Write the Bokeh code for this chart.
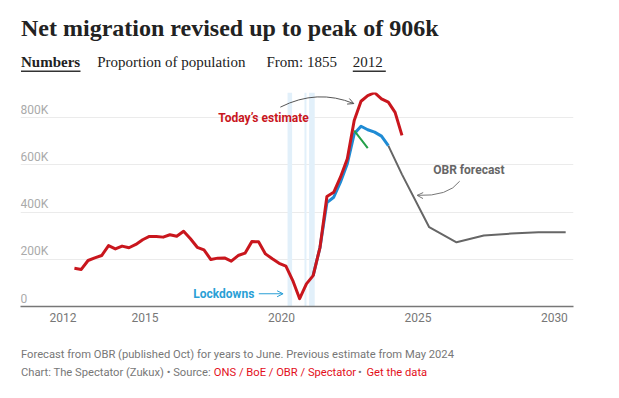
import pandas as pd
from bokeh.plotting import figure
from bokeh.layouts import column
from bokeh.models import Label, Arrow, OpenHead, FixedTicker, Range1d
from bokeh.core.properties import value
from bokeh.embed import file_html
from bokeh.resources import INLINE

# ---------------- data ----------------
# Today's estimate (thousands), quarterly from Jun 2012
red_start = "2012-06-01"
red_values = [162, 157, 195, 206, 216, 258, 244, 256, 249, 263, 283, 297, 297,
              294, 304, 298, 319, 287, 251, 240, 199, 205, 206, 192, 216, 226,
              275, 274, 223, 202, 183, 171, 110, 33, 96, 131, 251, 466, 484,
              548, 626, 788, 870, 894, 906, 880, 866, 823, 725]
# Previous estimate (May 2024), quarterly from Mar 2021
blue_start = "2021-03-01"
blue_values = [131, 251, 440, 463, 527, 605, 732, 764, 749, 739, 722, 682]
# Earlier estimate, quarterly from Sep 2022
green_start = "2022-09-01"
green_values = [745, 708, 671]
# OBR forecast (years to June)
gray_dates = ["2023-12-01", "2024-06-01", "2025-06-01", "2026-06-01",
              "2027-06-01", "2028-06-01", "2029-06-01", "2030-06-01"]
gray_values = [682, 560, 336, 272, 301, 309, 315, 315]
# Lockdowns
lock_starts = ["2020-03-23", "2020-11-05", "2021-01-06"]
lock_ends = ["2020-05-23", "2020-12-02", "2021-03-22"]

x_ticks = [2012, 2015, 2020, 2025, 2030]
y_ticks = [0, 200, 400, 600, 800]
y_tick_labels = ["0", "200K", "400K", "600K", "800K"]
grid_ticks = [200, 400, 600, 800]

X_START, X_END = 2010.44, 2030.70
Y_START, Y_END = 0, 907

W = 619
LEFT, RIGHT = 20, 46          # borders around the plotting frame


def frac_year(d):
    d = pd.Timestamp(d)
    days = 366 if d.is_leap_year else 365
    return d.year + (d.dayofyear - 1) / days


def quarterly(start, n):
    return [frac_year(d) for d in pd.date_range(start, periods=n, freq="3MS")]


red_x = quarterly(red_start, len(red_values))
blue_x = quarterly(blue_start, len(blue_values))
green_x = quarterly(green_start, len(green_values))
gray_x = [frac_year(d) for d in gray_dates]

RED = "#c9161d"
BLUE = "#1f8bd4"
GREEN = "#24a04a"
GRAY = "#666666"
LBLUE = "#2a9fd6"
INK = "#222222"


def blank(height, y_top, y_bottom):
    # frame spans x = LEFT .. W-RIGHT, so the x range is in page pixels
    f = figure(width=W, height=height, x_range=Range1d(LEFT, W - RIGHT),
               y_range=Range1d(y_bottom, y_top), output_backend="svg",
               toolbar_location=None, x_axis_location=None, y_axis_location=None,
               min_border_left=LEFT, min_border_right=RIGHT,
               min_border_top=0, min_border_bottom=0)
    f.outline_line_color = None
    f.xgrid.visible = False
    f.ygrid.visible = False
    return f


def txt(f, x, y, s, font, size, color, style="normal"):
    f.text(x=[x], y=[y], text=[s], text_font=value(font), text_font_size=size,
           text_color=color, text_font_style=style, text_baseline="alphabetic",
           text_align="left")


# ---------------- header ----------------
SERIF = "Liberation Serif"
head = blank(80, 0, 80)
txt(head, 20.5, 27.5, "Net migration revised up to peak of 906k", SERIF, "24px", INK, "bold")
txt(head, 20.5, 61.5, "Numbers", SERIF, "15px", INK, "bold")
txt(head, 96.7, 61.5, "Proportion of population", SERIF, "15px", INK)
txt(head, 266, 61.5, "From: 1855", SERIF, "15px", INK)
txt(head, 352.3, 61.5, "2012", SERIF, "15px", INK)
head.segment(x0=[20.5, 352.3], y0=[70.7, 70.7], x1=[80, 385.3], y1=[70.7, 70.7],
             line_color="#333333", line_width=1.5)

# ---------------- main chart ----------------
p = figure(width=W, height=255, x_range=Range1d(X_START, X_END),
           y_range=Range1d(Y_START, Y_END), output_backend="svg",
           toolbar_location=None, y_axis_location=None,
           min_border_left=LEFT, min_border_right=RIGHT, min_border_top=12,
           min_border_bottom=29)
p.outline_line_color = None

p.xgrid.grid_line_color = None
p.ygrid.ticker = FixedTicker(ticks=grid_ticks)
p.ygrid.grid_line_color = "#ebebeb"
p.ygrid.grid_line_width = 1

xa = p.xaxis[0]
xa.ticker = FixedTicker(ticks=x_ticks)
xa.major_tick_line_color = None
xa.minor_tick_line_color = None
xa.axis_line_color = "#777777"
xa.axis_line_width = 1.5
xa.major_label_text_font = "Roboto"
xa.major_label_text_font_size = "12px"
xa.major_label_text_color = "#777777"
xa.major_label_standoff = 0

# lockdown bands
p.quad(left=[frac_year(d) for d in lock_starts],
       right=[frac_year(d) for d in lock_ends],
       bottom=Y_START, top=Y_END, fill_color="#e2f0fa", line_color=None)

# y labels inside the plot
p.text(x=[X_START] * len(y_ticks), y=y_ticks, text=y_tick_labels,
       text_font=value("Roboto"), text_font_size="12px", text_color="#aaaaaa",
       text_baseline="alphabetic", text_align="left", y_offset=-8)

# lines
p.line(gray_x, gray_values, line_color=GRAY, line_width=2, line_join="round")
p.line(blue_x, blue_values, line_color=BLUE, line_width=3, line_join="round")
p.line(green_x, green_values, line_color=GREEN, line_width=2, line_join="round")
p.line(red_x, red_values, line_color=RED, line_width=3, line_join="round")

# annotations
p.add_layout(Label(x=2021.0, y=797, text="Today\u2019s estimate", text_align="right",
                   text_baseline="alphabetic", text_font="Roboto",
                   text_font_style="bold", text_font_size="12px", text_color=RED))
p.add_layout(Label(x=2025.56, y=577, text="OBR forecast", text_align="left",
                   text_baseline="alphabetic", text_font="Roboto",
                   text_font_style="bold", text_font_size="12px", text_color="#666666"))
p.add_layout(Label(x=2016.77, y=52, text="Lockdowns", text_align="left",
                   text_baseline="alphabetic", text_font="Roboto",
                   text_font_style="bold", text_font_size="12px", text_color=LBLUE))

p.quadratic(x0=[2019.96], y0=[845], x1=[2022.65], y1=[860], cx=[2021.31], cy=[924],
            line_color="#555555", line_width=1)
p.add_layout(Arrow(end=OpenHead(size=6, line_color="#555555", line_width=1),
                   x_start=2022.65 - 0.067, y_start=860 + 3.2, x_end=2022.65, y_end=860,
                   line_color="#555555", line_width=1))
p.quadratic(x0=[2026.53], y0=[531], x1=[2024.97], y1=[471], cx=[2026.12], cy=[466],
            line_color="#777777", line_width=1)
p.add_layout(Arrow(end=OpenHead(size=6, line_color="#777777", line_width=1),
                   x_start=2024.97 + 0.057, y_start=471 - 0.2, x_end=2024.97, y_end=471,
                   line_color="#777777", line_width=1))
p.add_layout(Arrow(end=OpenHead(size=6, line_color=LBLUE, line_width=1),
                   x_start=2019.17, y_start=54, x_end=2020.06, y_end=54,
                   line_color=LBLUE, line_width=1))

# ---------------- footer ----------------
FOOT = "#777777"
FRED = "#e3101b"
FS = "11.2px"
foot = blank(61, 335, 396)
txt(foot, 20.5, 354.3,
    "Forecast from OBR (published Oct) for years to June. Previous estimate from May 2024",
    "Roboto", FS, FOOT)
txt(foot, 20.5, 371.7, "Chart: The Spectator (Zukux) \u2022 Source: ", "Roboto", FS, FOOT)
txt(foot, 213.3, 371.7, "ONS / BoE / OBR / Spectator", "Roboto", FS, FRED)
txt(foot, 357.5, 371.7, "\u2022", "Roboto", FS, FOOT)
txt(foot, 366, 371.7, "Get the data", "Roboto", FS, FRED)

layout = column(head, p, foot, spacing=0)
open("out.html", "w").write(file_html(layout, INLINE))
